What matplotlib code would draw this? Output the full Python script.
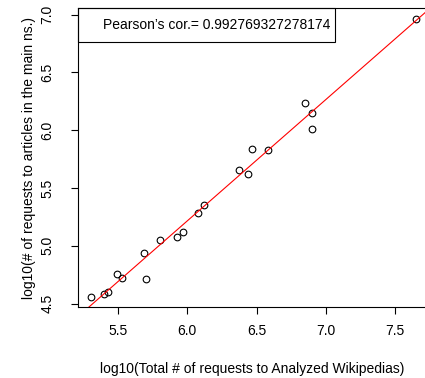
import numpy as np
import matplotlib
matplotlib.use("Agg")
import matplotlib.pyplot as plt
from matplotlib.patches import Rectangle

plt.rcParams['font.family'] = ['Liberation Sans', 'DejaVu Sans']

total_requests = [5.310, 5.403, 5.428, 5.495, 5.531, 5.689, 5.704, 5.805, 5.927, 5.973,
                  6.081, 6.120, 6.374, 6.441, 6.468, 6.585, 6.852, 6.902, 6.902, 7.647]
main_ns_requests = [4.557, 4.587, 4.598, 4.753, 4.725, 4.938, 4.713, 5.048, 5.076, 5.123,
                    5.284, 5.356, 5.653, 5.619, 5.835, 5.832, 6.239, 6.152, 6.008, 6.959]
x_ticks = [5.5, 6.0, 6.5, 7.0, 7.5]
y_ticks = [4.5, 5.0, 5.5, 6.0, 6.5, 7.0]
legend_text = "Pearson\u2019s cor.= 0.992769327278174"
xlabel = "log10(Total # of requests to Analyzed Wikipedias)"
ylabel = "log10(# of requests to articles in the main ns.)"

x = np.array(total_requests)
y = np.array(main_ns_requests)

FS = 10

fig = plt.figure(figsize=(4.25, 3.78), dpi=100)
ax = fig.add_axes([78.3/425, 1-307.3/378, (426-78.3)/425, (307.3-8.3)/378])

ax.plot(x, y, 'o', mfc='none', mec='black', ms=4.8, mew=0.8)
slope, intercept = np.polyfit(x, y, 1)
xl = np.array([5.0, 8.0])
ax.plot(xl, intercept + slope*xl, color='red', lw=0.8)

ax.set_xlim(5.216, 5.216 + (426-78.3)/138.8)
ax.set_ylim(4.468, 7.054)
ax.set_xticks(x_ticks)
ax.set_xticklabels([f"{v:.1f}" for v in x_ticks])
ax.set_yticks(y_ticks)
ax.set_yticklabels([f"{v:.1f}" for v in y_ticks], rotation=90, va='center')
ax.tick_params(axis='both', length=5.2, width=0.8, labelsize=FS)
ax.tick_params(axis='x', pad=7)
ax.tick_params(axis='y', pad=12)
for s in ax.spines.values():
    s.set_linewidth(0.8)

ax.set_xlabel(xlabel, fontsize=FS, labelpad=17)
ax.set_ylabel(ylabel, fontsize=FS, labelpad=3)

# legend box
bx0, bx1 = 78.3, 335
by0, by1 = 8.3, 41.7
def to_axes(px, py):
    return ((px - 78.3) / (426 - 78.3), (307.3 - py) / (307.3 - 8.3))
ax0, ay1 = to_axes(bx0, by0)
ax1, ay0 = to_axes(bx1, by1)
ax.add_patch(Rectangle((ax0, ay0), ax1-ax0, ay1-ay0, transform=ax.transAxes,
                       fill=False, ec='black', lw=0.8, clip_on=False, zorder=5))
tx, ty = to_axes(103, (by0+by1)/2)
ax.text(tx, ty, legend_text, transform=ax.transAxes, ha='left', va='center', fontsize=FS)

fig.savefig("out.png", dpi=100)
